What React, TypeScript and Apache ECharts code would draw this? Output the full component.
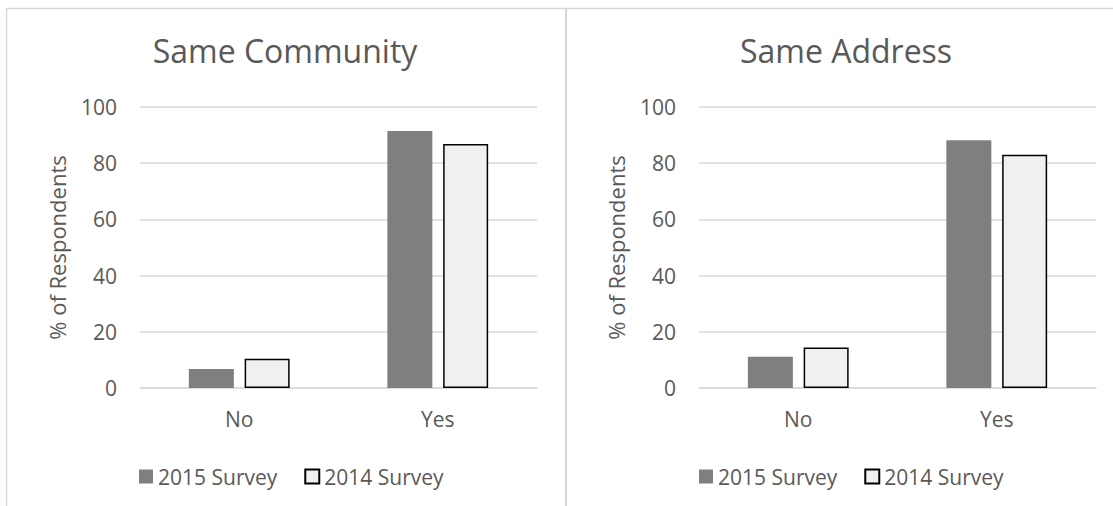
import React, { useEffect, useRef } from "react";
import * as echarts from "echarts";

const categories = ["No", "Yes"];
const seriesNames = ["2015 Survey", "2014 Survey"];
const titles = ["Same Community", "Same Address"];
const community2015 = [6.8, 91.5];
const community2014 = [10.4, 86.8];
const address2015 = [11.1, 88.2];
const address2014 = [14.4, 83.0];
const yTicks = { min: 0, max: 100, interval: 20 };
const yAxisName = "% of Respondents";

const FONT = "'Open Sans', sans-serif";
const TXT = "#595959";

export default function App() {
  const ref = useRef<HTMLDivElement>(null);
  useEffect(() => {
    if (!ref.current) return;
    const chart = echarts.init(ref.current, null, { renderer: "svg" });
    const grids = [
      { left: 140, width: 397, top: 107, height: 281 },
      { left: 699, width: 397, top: 107, height: 281 },
    ];
    const data = [
      [community2015, community2014],
      [address2015, address2014],
    ];
    const titleCenters = [285, 846];
    const legendLefts = [139, 699];
    const series: any[] = [];
    data.forEach((pair, gi) => {
      pair.forEach((vals, si) => {
        series.push({
          type: "bar",
          name: seriesNames[si],
          xAxisIndex: gi,
          yAxisIndex: gi,
          data: vals,
          barWidth: 45,
          barGap: "24%",
          itemStyle:
            si === 0
              ? { color: "#7f7f7f" }
              : { color: "#f0f0f0", borderColor: "#000000", borderWidth: 1.5 },
        });
      });
    });
    chart.setOption({
      animation: false,
      backgroundColor: "#ffffff",
      textStyle: { fontFamily: FONT },
      title: titles.map((t, i) => ({
        text: t,
        left: titleCenters[i],
        textAlign: "center",
        top: 34,
        padding: 0,
        textStyle: { fontFamily: FONT, fontSize: 32, fontWeight: "normal", color: TXT },
      })),
      legend: legendLefts.map((l) => ({
        left: l,
        top: 466,
        padding: 0,
        itemWidth: 14,
        itemHeight: 14,
        itemGap: 27,
        icon: "rect",
        data: seriesNames,
        textStyle: { fontFamily: FONT, fontSize: 21, color: TXT },
      })),
      grid: grids,
      xAxis: grids.map((_, i) => ({
        type: "category",
        gridIndex: i,
        data: categories,
        axisLine: { show: true, lineStyle: { color: "#d9d9d9", width: 1.5 } },
        axisTick: { show: false },
        axisLabel: { fontFamily: FONT, fontSize: 21, color: TXT, margin: 20 },
      })),
      yAxis: grids.map((_, i) => ({
        type: "value",
        gridIndex: i,
        min: yTicks.min,
        max: yTicks.max,
        interval: yTicks.interval,
        name: yAxisName,
        nameLocation: "middle",
        nameGap: 72,
        nameTextStyle: { fontFamily: FONT, fontSize: 22, color: TXT },
        axisLine: { show: false },
        axisTick: { show: false },
        splitLine: { lineStyle: { color: "#d9d9d9", width: 1.5 } },
        axisLabel: { fontFamily: FONT, fontSize: 21, color: TXT, margin: 23 },
      })),
      graphic: [
        {
          type: "polyline",
          shape: { points: [[6.5, 520], [6.5, 8.5], [1120, 8.5]] },
          style: { fill: "none", stroke: "#d9d9d9", lineWidth: 1.5 },
          silent: true,
          z: -1,
        },
        {
          type: "line",
          shape: { x1: 566, y1: 8.5, x2: 566, y2: 520 },
          style: { stroke: "#d6d6d6", lineWidth: 2 },
          silent: true,
          z: -1,
        },
      ],
      series,
    });
    return () => chart.dispose();
  }, []);
  return (
    <div
      ref={ref}
      style={{ position: "fixed", left: 0, top: 0, width: 1113, height: 506 }}
    />
  );
}
